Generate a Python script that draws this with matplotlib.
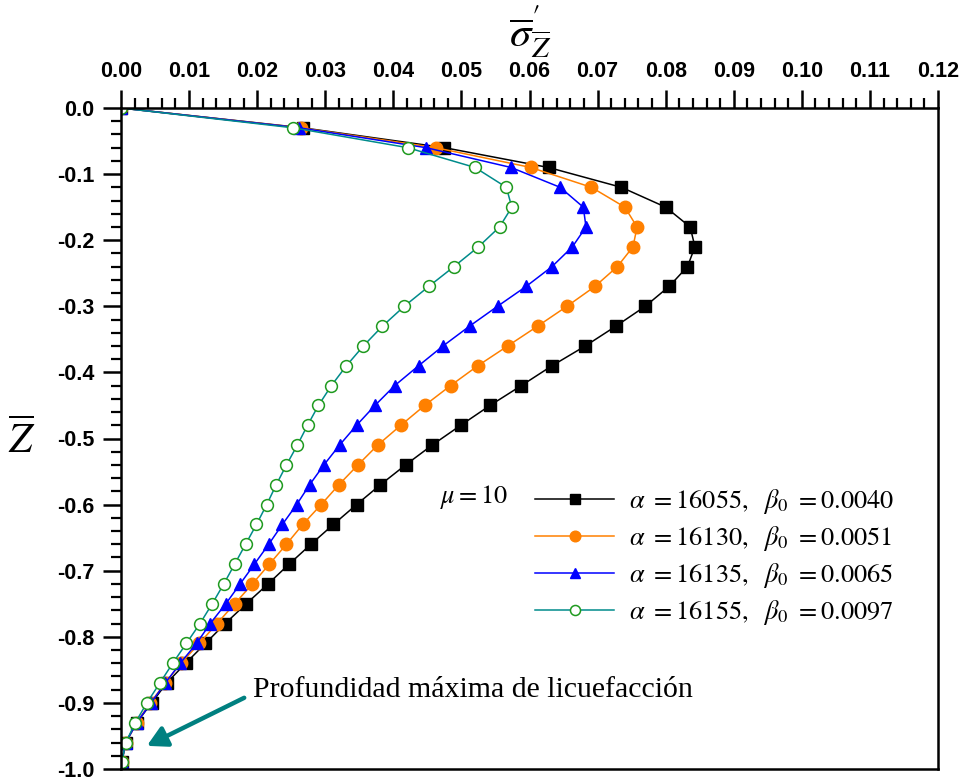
import numpy as np
import matplotlib
matplotlib.use('Agg')
import matplotlib.pyplot as plt
from matplotlib.ticker import MultipleLocator, FuncFormatter

plt.rcParams['mathtext.fontset'] = 'stix'
plt.rcParams['font.family'] = ['Liberation Serif', 'DejaVu Serif']

# depth Z (marker positions)
z = [0.0, -0.03, -0.06, -0.09, -0.12, -0.15, -0.18, -0.21, -0.24, -0.27,
     -0.30, -0.33, -0.36, -0.39, -0.42, -0.45, -0.48, -0.51, -0.54, -0.57,
     -0.60, -0.63, -0.66, -0.69, -0.72, -0.75, -0.78, -0.81, -0.84, -0.87,
     -0.90, -0.93, -0.96, -0.99]

# effective stress for each case
s_16055 = [0.0, 0.0267, 0.0475, 0.0628, 0.0735, 0.0800, 0.0836, 0.0843, 0.0832, 0.0805,
           0.0770, 0.0727, 0.0682, 0.0633, 0.0588, 0.0542, 0.0499, 0.0457, 0.0418, 0.0381,
           0.0346, 0.0312, 0.0279, 0.0247, 0.0216, 0.0184, 0.0153, 0.0124, 0.0095, 0.0067,
           0.0045, 0.0023, 0.0007, 0.0001]
s_16130 = [0.0, 0.0264, 0.0462, 0.0602, 0.0691, 0.0740, 0.0758, 0.0752, 0.0729, 0.0696,
           0.0655, 0.0612, 0.0568, 0.0524, 0.0484, 0.0446, 0.0411, 0.0377, 0.0348, 0.0320,
           0.0294, 0.0267, 0.0243, 0.0218, 0.0193, 0.0167, 0.0141, 0.0115, 0.0088, 0.0065,
           0.0043, 0.0023, 0.0007, 0.0001]
s_16135 = [0.0, 0.0262, 0.0448, 0.0573, 0.0645, 0.0679, 0.0683, 0.0663, 0.0633, 0.0595,
           0.0553, 0.0512, 0.0473, 0.0437, 0.0402, 0.0373, 0.0346, 0.0321, 0.0298, 0.0277,
           0.0258, 0.0237, 0.0217, 0.0196, 0.0175, 0.0154, 0.0131, 0.0111, 0.0087, 0.0065,
           0.0044, 0.0023, 0.0007, 0.0001]
s_16155 = [0.0, 0.0253, 0.0421, 0.0520, 0.0566, 0.0574, 0.0556, 0.0525, 0.0489, 0.0452,
           0.0416, 0.0384, 0.0356, 0.0331, 0.0309, 0.0290, 0.0274, 0.0259, 0.0243, 0.0228,
           0.0214, 0.0199, 0.0183, 0.0167, 0.0151, 0.0134, 0.0116, 0.0096, 0.0076, 0.0057,
           0.0038, 0.0021, 0.0007, 0.0001]

labels = [r'$\alpha\ =16055,\ \ \beta_0\ = 0.0040$',
          r'$\alpha\ =16130,\ \ \beta_0\ = 0.0051$',
          r'$\alpha\ =16135,\ \ \beta_0\ = 0.0065$',
          r'$\alpha\ =16155,\ \ \beta_0\ = 0.0097$']

W, H = 961, 781
fig = plt.figure(figsize=(W/100, H/100), dpi=100)
ax = fig.add_axes([121/W, 1-769/H, (938-121)/W, (769-108)/H])

ax.plot(s_16055, z, '-', color='black', lw=1.1, marker='s', ms=8, label=labels[0])
ax.plot(s_16130, z, '-', color='#ff8000', lw=1.1, marker='o', ms=9, label=labels[1])
ax.plot(s_16135, z, '-', color='#0000ff', lw=1.1, marker='^', ms=9, label=labels[2])
ax.plot(s_16155, z, '-', color='#008b8b', lw=1.1, marker='o', ms=8.5, mfc='white',
        mec='#1f9a1f', mew=1.1, label=labels[3])

ax.set_xlim(0, 0.12)
ax.set_ylim(-1.0, 0.0)

ax.xaxis.tick_top()
ax.xaxis.set_major_locator(MultipleLocator(0.01))
ax.xaxis.set_minor_locator(MultipleLocator(0.002))
ax.yaxis.set_major_locator(MultipleLocator(0.1))
ax.yaxis.set_minor_locator(MultipleLocator(0.02))
ax.xaxis.set_major_formatter(FuncFormatter(lambda v, p: '%.2f' % v))
ax.yaxis.set_major_formatter(FuncFormatter(lambda v, p: '%.1f' % (0.0 if abs(v) < 1e-9 else v)))
ax.tick_params(axis='both', which='major', direction='out', length=13, width=1.8, pad=6)
ax.tick_params(axis='both', which='minor', direction='out', length=7, width=1.6)
ax.tick_params(axis='x', which='both', top=True, bottom=False)
ax.tick_params(axis='y', which='both', left=True, right=False)
for t in ax.get_xticklabels() + ax.get_yticklabels():
    t.set_fontfamily(['Liberation Sans', 'DejaVu Sans'])
    t.set_fontweight('bold')
    t.set_fontsize(15.5)
for sp in ax.spines.values():
    sp.set_linewidth(1.8)

fig.text(530/W, 1-32/H, r'$\overline{\sigma}_{\overline{Z}}^{\prime}$', fontsize=31,
         ha='center', va='center')
fig.text(22/W, 1-440/H, r'$\overline{Z}$', fontsize=30, ha='center', va='center')

leg = ax.legend(loc='upper left', bbox_to_anchor=(535/W, 1-487/H),
                bbox_transform=fig.transFigure, frameon=False, fontsize=19,
                handlelength=3.0, handletextpad=0.55, labelspacing=0.3,
                borderpad=0, borderaxespad=0, markerscale=0.85)
fig.text(440/W, 1-497/H, r'$\mu = 10$', fontsize=19, ha='left', va='center')

ax.annotate('Profundidad máxima de licuefacción', xy=(0.0038, -0.965), xycoords='data',
            xytext=(253/W, 1-690/H), textcoords='figure fraction',
            fontsize=21.5, ha='left', va='center',
            arrowprops=dict(arrowstyle='-|>,head_length=0.55,head_width=0.3',
                            color='#008080', lw=3.2, shrinkA=0, shrinkB=0,
                            relpos=(-0.02, 0.2)))

fig.savefig('out.png', dpi=100)
